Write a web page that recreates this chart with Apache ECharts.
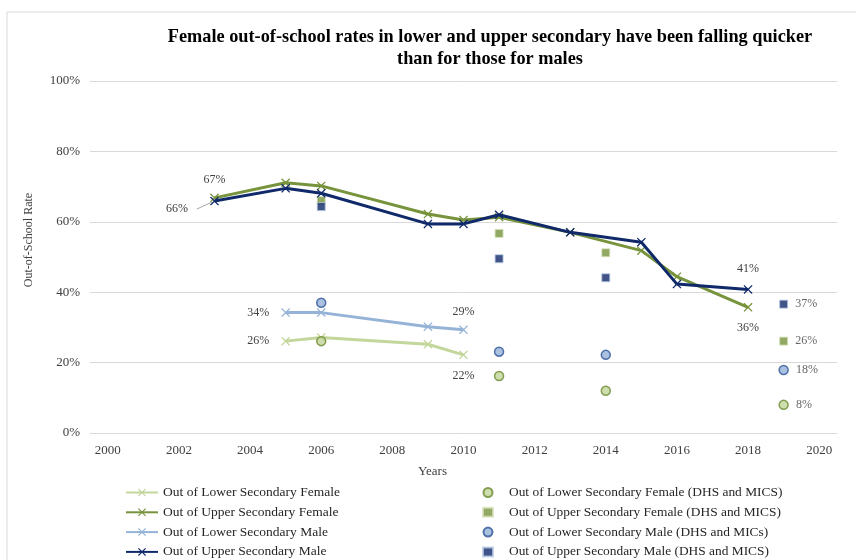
<!DOCTYPE html>
<html>
<head>
<meta charset="utf-8">
<script src="https://cdn.jsdelivr.net/npm/echarts@6/dist/echarts.min.js"></script>
<style>
  html, body { margin: 0; padding: 0; background: #ffffff; }
  #chart { width: 856px; height: 560px; }
</style>
</head>
<body>
<div id="chart"></div>
<script>
  // 数据
  var yTicks = [0, 20, 40, 60, 80, 100];
  var xTicks = [2000, 2002, 2004, 2006, 2008, 2010, 2012, 2014, 2016, 2018, 2020];

  var lowerYears = [2005, 2006, 2009, 2010];
  var lowerFemale = [26.1, 27.1, 25.2, 22.2];
  var lowerMale = [34.2, 34.2, 30.2, 29.3];

  var upperYears = [2003, 2005, 2006, 2009, 2010, 2011, 2013, 2015, 2016, 2018];
  var upperFemale = [66.8, 71.1, 70.2, 62.2, 60.5, 61.3, 57.0, 51.8, 44.4, 35.7];
  var upperMale = [65.9, 69.5, 68.1, 59.4, 59.4, 62.0, 57.0, 54.2, 42.3, 40.8];

  var surveyYears = [2006, 2011, 2014, 2019];
  var surveyLowerFemale = [26.1, 16.2, 12.0, 8.0];
  var surveyUpperFemale = [66.0, 56.7, 51.2, 26.1];
  var surveyLowerMale = [37.0, 23.1, 22.2, 17.9];
  var surveyUpperMale = [64.3, 49.5, 44.1, 36.6];

  // 66% 标签的引线 (数据坐标)
  var leaderLine = [[2002.5, 63.6], [2002.93, 65.6]];

  var serif = "'Liberation Serif', 'DejaVu Serif', serif";
  var crossPath = 'path://M0,1 L1,0 L5,4 L9,0 L10,1 L6,5 L10,9 L9,10 L5,6 L1,10 L0,9 L4,5 Z';

  function pct(p) {
    return Math.round(p.value[1]) + '%';
  }

  function pts(years, vals, labels) {
    return years.map(function (y, i) {
      var d = { value: [y, vals[i]] };
      if (labels && labels[i]) {
        d.label = Object.assign({
          show: true,
          formatter: pct,
          fontFamily: serif,
          fontSize: 12,
          color: '#404040'
        }, labels[i]);
      }
      return d;
    });
  }

  function lineSeries(name, color, years, vals, labels, z) {
    return {
      name: name,
      type: 'line',
      z: z,
      symbol: crossPath,
      symbolSize: 9,
      showAllSymbol: true,
      lineStyle: { color: color, width: 3 },
      itemStyle: { color: color },
      data: pts(years, vals, labels)
    };
  }

  function dotSeries(name, symbol, fill, border, vals, labels) {
    return {
      name: name,
      type: 'scatter',
      symbol: symbol,
      symbolSize: symbol === 'circle' ? 9 : 8,
      itemStyle: { color: fill, borderColor: border, borderWidth: symbol === 'circle' ? 1.5 : 1 },
      data: pts(surveyYears, vals, labels)
    };
  }

  var upperMaleSeries = lineSeries('Out of Upper Secondary Male', '#10296a', upperYears, upperMale, {
    0: { position: 'left', distance: 22, offset: [0, 8] },
    9: { position: 'top', distance: 10 }
  }, 4);
  upperMaleSeries.markLine = {
    silent: true,
    symbol: 'none',
    label: { show: false },
    lineStyle: { color: '#a6a6a6', width: 1, type: 'solid' },
    data: [[{ coord: leaderLine[0] }, { coord: leaderLine[1] }]]
  };

  var chart = echarts.init(document.getElementById('chart'));

  chart.setOption({
    animation: false,
    backgroundColor: '#ffffff',
    graphic: [{
      type: 'rect',
      shape: { x: 7, y: 12, width: 900, height: 600 },
      style: { fill: 'none', stroke: '#d9d9d9', lineWidth: 1 },
      silent: true,
      z: -10
    }],
    title: {
      text: 'Female out-of-school rates in lower and upper secondary have been falling quicker\nthan for those for males',
      left: 485,
      top: 21,
      textAlign: 'center',
      textStyle: {
        fontFamily: serif,
        fontWeight: 'bold',
        fontSize: 18.3,
        lineHeight: 22,
        color: '#000000'
      }
    },
    grid: {
      left: 90,
      right: 19,
      top: 81,
      bottom: 127,
      containLabel: false
    },
    xAxis: {
      type: 'value',
      min: 1999.5,
      max: 2020.5,
      name: 'Years',
      nameLocation: 'middle',
      nameGap: 32,
      nameTextStyle: { fontFamily: serif, fontSize: 13, color: '#404040', padding: [0, 62, 0, 0] },
      axisLine: { show: false },
      axisTick: { show: false },
      splitLine: { show: false },
      axisLabel: {
        customValues: xTicks,
        margin: 11,
        fontFamily: serif,
        fontSize: 13,
        color: '#404040',
        formatter: function (v) { return String(v); }
      }
    },
    yAxis: {
      type: 'value',
      min: 0,
      max: 100,
      interval: 20,
      name: 'Out-of-School Rate',
      nameLocation: 'middle',
      nameGap: 55,
      nameTextStyle: { fontFamily: serif, fontSize: 12, color: '#404040', padding: [0, 0, 0, 34] },
      axisLine: { show: false },
      axisTick: { show: false },
      splitLine: { lineStyle: { color: '#d9d9d9', width: 1 } },
      axisLabel: {
        customValues: yTicks,
        margin: 10,
        fontFamily: serif,
        fontSize: 13,
        color: '#404040',
        formatter: '{value}%'
      }
    },
    legend: [{
      orient: 'vertical',
      left: 125,
      top: 485,
      height: 80,
      padding: 0,
      itemWidth: 32,
      itemHeight: 10,
      itemGap: 4.8,
      textStyle: { fontFamily: serif, fontSize: 13.5, color: '#262626', lineHeight: 15 },
      data: ['Out of Lower Secondary Female', 'Out of Upper Secondary Female',
        'Out of Lower Secondary Male', 'Out of Upper Secondary Male']
    }, {
      orient: 'vertical',
      left: 482,
      top: 485,
      height: 80,
      padding: 0,
      itemWidth: 10,
      itemHeight: 9,
      itemGap: 4.8,
      textStyle: { fontFamily: serif, fontSize: 13.4, color: '#262626', lineHeight: 15, padding: [0, 0, 0, 11] },
      data: ['Out of Lower Secondary Female (DHS and MICS)', 'Out of Upper Secondary Female (DHS and MICS)',
        'Out of Lower Secondary Male (DHS and MICs)', 'Out of Upper Secondary Male (DHS and MICS)']
    }],
    series: [
      lineSeries('Out of Lower Secondary Female', '#c3d69b', lowerYears, lowerFemale, {
        0: { position: 'left', distance: 12 },
        3: { position: 'bottom', distance: 10 }
      }, 2),
      lineSeries('Out of Upper Secondary Female', '#77933c', upperYears, upperFemale, {
        0: { position: 'top', distance: 8 },
        9: { position: 'bottom', distance: 10 }
      }, 3),
      lineSeries('Out of Lower Secondary Male', '#95b3d7', lowerYears, lowerMale, {
        0: { position: 'left', distance: 12 },
        3: { position: 'top', distance: 8 }
      }, 2),
      upperMaleSeries,
      dotSeries('Out of Lower Secondary Female (DHS and MICS)', 'circle', '#c3d69b', '#6b8a2e', surveyLowerFemale, {
        3: { position: 'right', distance: 7 }
      }),
      dotSeries('Out of Upper Secondary Female (DHS and MICS)', 'rect', '#77933c', '#d7e4bd', surveyUpperFemale, {
        3: { position: 'right', distance: 7 }
      }),
      dotSeries('Out of Lower Secondary Male (DHS and MICs)', 'circle', '#95b3d7', '#2f5597', surveyLowerMale, {
        3: { position: 'right', distance: 7 }
      }),
      dotSeries('Out of Upper Secondary Male (DHS and MICS)', 'rect', '#10296a', '#b9cde5', surveyUpperMale, {
        3: { position: 'right', distance: 7 }
      })
    ]
  });
</script>
</body>
</html>
